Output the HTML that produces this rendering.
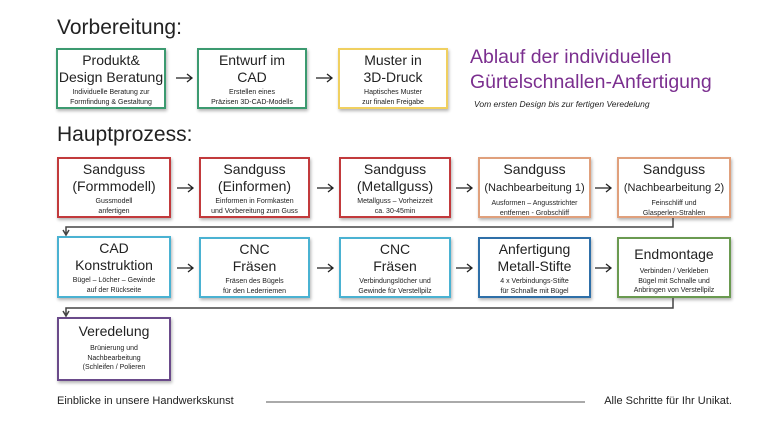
<!DOCTYPE html>
<html><head><meta charset="utf-8"><style>
body{margin:0;width:768px;height:430px;background:#fff;position:relative;overflow:hidden;font-family:"Liberation Sans",sans-serif;color:#222}
.b{position:absolute;box-sizing:border-box;border:2px solid;background:#fff;text-align:center;box-shadow:1px 2px 3px rgba(0,0,0,.3);padding-top:2px}
.t{font-size:14px;line-height:17px}
.s{font-size:7px;line-height:9.5px;margin-top:2px}
.h{position:absolute;left:57px;font-size:21px}
</style></head><body>
<div class="h" style="top:16px">Vorbereitung:</div>
<div class="h" style="top:123px">Hauptprozess:</div>
<div style="position:absolute;left:470px;top:45px;color:#7b2f8f;font-size:19.5px;line-height:25px">Ablauf der individuellen<br>Gürtelschnallen-Anfertigung</div>
<div style="position:absolute;left:474px;top:99px;font-size:8.5px;font-style:italic">Vom ersten Design bis zur fertigen Veredelung</div>

<div class="b" style="left:56px;top:48px;width:110px;height:61px;border-color:#3c9a70"><div class="t">Produkt&amp;<br>Design Beratung</div><div class="s">Individuelle Beratung zur<br>Formfindung &amp; Gestaltung</div></div>
<div class="b" style="left:197px;top:48px;width:110px;height:61px;border-color:#3c9a70"><div class="t">Entwurf im<br>CAD</div><div class="s">Erstellen eines<br>Präzisen 3D-CAD-Modells</div></div>
<div class="b" style="left:338px;top:48px;width:110px;height:61px;border-color:#f0d060"><div class="t">Muster in<br>3D-Druck</div><div class="s">Haptisches Muster<br>zur finalen Freigabe</div></div>

<div class="b" style="left:57px;top:157px;width:114px;height:61px;border-color:#c23a3c"><div class="t">Sandguss<br>(Formmodell)</div><div class="s">Gussmodell<br>anfertigen</div></div>
<div class="b" style="left:199px;top:157px;width:111px;height:61px;border-color:#c23a3c"><div class="t">Sandguss<br>(Einformen)</div><div class="s">Einformen in Formkasten<br>und Vorbereitung zum Guss</div></div>
<div class="b" style="left:339px;top:157px;width:112px;height:61px;border-color:#c23a3c"><div class="t">Sandguss<br>(Metallguss)</div><div class="s">Metallguss – Vorheizzeit<br>ca. 30-45min</div></div>
<div class="b" style="left:478px;top:157px;width:113px;height:61px;border-color:#e0a07c"><div class="t">Sandguss<br><span style="font-size:11px">(Nachbearbeitung 1)</span></div><div class="s">Ausformen – Angusstrichter<br>entfernen - Grobschliff</div></div>
<div class="b" style="left:617px;top:157px;width:114px;height:61px;border-color:#e0a07c"><div class="t">Sandguss<br><span style="font-size:11px">(Nachbearbeitung 2)</span></div><div class="s">Feinschliff und<br>Glasperlen-Strahlen</div></div>

<div class="b" style="left:57px;top:236px;width:114px;height:62px;border-color:#4ab2d2"><div class="t">CAD<br>Konstruktion</div><div class="s">Bügel – Löcher – Gewinde<br>auf der Rückseite</div></div>
<div class="b" style="left:199px;top:237px;width:111px;height:61px;border-color:#4ab2d2"><div class="t">CNC<br>Fräsen</div><div class="s">Fräsen des Bügels<br>für den Lederriemen</div></div>
<div class="b" style="left:339px;top:237px;width:112px;height:61px;border-color:#4ab2d2"><div class="t">CNC<br>Fräsen</div><div class="s">Verbindungslöcher und<br>Gewinde für Verstellpilz</div></div>
<div class="b" style="left:478px;top:237px;width:113px;height:61px;border-color:#2e6fa8"><div class="t">Anfertigung<br>Metall-Stifte</div><div class="s">4 x Verbindungs-Stifte<br>für Schnalle mit Bügel</div></div>
<div class="b" style="left:617px;top:237px;width:114px;height:61px;border-color:#6a9a50;padding-top:7px"><div class="t">Endmontage</div><div class="s" style="margin-top:4px">Verbinden / Verkleben<br>Bügel mit Schnalle und<br>Anbringen von Verstellpilz</div></div>

<div class="b" style="left:57px;top:317px;width:114px;height:64px;border-color:#6a4a8a;padding-top:4px"><div class="t">Veredelung</div><div class="s" style="margin-top:4px">Brünierung und<br>Nachbearbeitung<br>(Schleifen / Polieren</div></div>

<svg width="768" height="430" style="position:absolute;left:0;top:0" fill="none" stroke="#222" stroke-width="1.5">
<g stroke-width="1.3">
<path d="M176 78H192M187 74L192 78L187 82"/><path d="M316 78H332M327 74L332 78L327 82"/>
<path d="M177 188H193M188 184L193 188L188 192"/><path d="M317 188H333M328 184L333 188L328 192"/>
<path d="M456 188H472M467 184L472 188L467 192"/><path d="M595 188H611M606 184L611 188L606 192"/>
<path d="M177 268H193M188 264L193 268L188 272"/><path d="M317 268H333M328 264L333 268L328 272"/>
<path d="M456 268H472M467 264L472 268L467 272"/><path d="M595 268H611M606 264L611 268L606 272"/>
</g>
<path d="M673 218V227H66V235M63 230L66 235L69 230" stroke="#444"/>
<path d="M673 298V308H66V316M63 311L66 316L69 311" stroke="#444"/>
<path d="M266 402H585" stroke="#555" stroke-width="1"/>
</svg>
<div style="position:absolute;left:57px;top:395px;font-size:11px">Einblicke in unsere Handwerkskunst</div>
<div style="position:absolute;right:36px;top:395px;font-size:11px">Alle Schritte für Ihr Unikat.</div>
</body></html>
